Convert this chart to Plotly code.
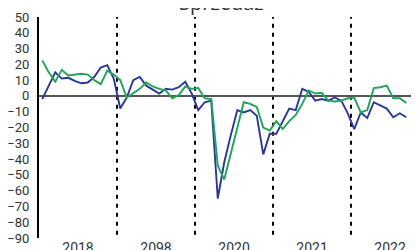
import plotly.graph_objects as go

# Year labels (as printed on the original chart, including its typo)
year_labels = ["2018", "2098", "2020", "2021", "2022"]
months_per_year = 12

# Monthly series, Jan 2018 .. Sep 2022
series_blue = [
    -2, 6.5, 15, 11, 11.5, 9.5, 8, 8.5, 12, 18, 19.5, 11,
    -8, -1, 10, 12, 6.5, 4, 1.5, 4.5, 4, 5.5, 9, 1.5,
    -9, -4, -3, -65, -42, -25, -9, -10.5, -9, -12.5, -37, -24,
    -24, -16, -8, -9, 4.5, 2.5, -3, -2, -3, -1, -3, -11,
    -21, -10.5, -14, -4, -6, -8, -13.5, -11, -13.5,
]
series_green = [
    22.5, 15, 9, 16.5, 13, 13.5, 14, 13.5, 10, 7.5, 16, 13.5,
    10, -1, 1.5, 4.5, 8.5, 6, 4.5, 3.5, -1.5, 0.5, 6, 4.5,
    5, -1.5, -2, -44, -53, -37, -20, -4, -5, -7, -20, -22,
    -16, -21, -16, -12, -5, 3.5, 1.5, 2, -3, -3.5, -3, -1.5,
    -1, -10.5, -9, 5, 5.5, 6.5, -1.5, -1.5, -4.5,
]
y_ticks = list(range(-90, 51, 10))
title_text = "Sprzedaż"

x = list(range(len(series_blue)))

fig = go.Figure()
fig.add_trace(go.Scatter(x=x, y=series_blue, mode="lines",
                         line=dict(color="#2b3794", width=1.9), showlegend=False))
fig.add_trace(go.Scatter(x=x, y=series_green, mode="lines",
                         line=dict(color="#1ea55a", width=1.9), showlegend=False))

# year separators
for k in range(1, len(year_labels)):
    b = k * months_per_year - 0.5
    fig.add_shape(type="line", xref="x", yref="y", x0=b, x1=b, y0=-88, y1=50,
                  line=dict(color="black", width=2, dash="4px,5px"), layer="below")

tickvals = [k * months_per_year + (months_per_year - 1) / 2 for k in range(len(year_labels))]

fig.update_layout(
    width=411, height=242,
    margin=dict(l=31, r=0, t=9, b=12),
    paper_bgcolor="white", plot_bgcolor="white",
    font=dict(family="Roboto, Arial, sans-serif", color="#333333"),
    xaxis=dict(range=[-0.5, 57.96], showgrid=False, zeroline=False, showline=False,
               tickvals=tickvals, ticktext=year_labels, ticks="", automargin=False,
               tickfont=dict(size=14, color="#333333")),
    yaxis=dict(range=[-90, 50], showgrid=False, tickvals=y_ticks, ticks="",
               showline=True, linecolor="black", linewidth=2, automargin=False,
               zeroline=True, zerolinecolor="#555555", zerolinewidth=2,
               ticklabelstandoff=5,
               tickfont=dict(size=13, color="#333333")),
    annotations=[dict(text=title_text, xref="paper", yref="paper", x=0.48, y=0.994,
                      xanchor="center", yanchor="bottom", showarrow=False,
                      font=dict(size=20, color="#333333", family="Open Sans, sans-serif"))],
)

fig.write_html("out.html")
